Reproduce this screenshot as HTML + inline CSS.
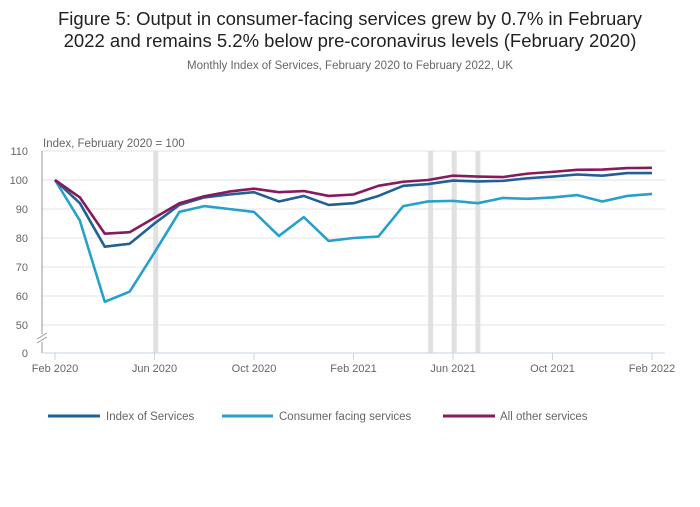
<!DOCTYPE html>
<html><head><meta charset="utf-8"><style>
body{margin:0;background:#fff;font-family:"Liberation Sans",sans-serif;}
</style></head><body>
<svg width="700" height="502" xmlns="http://www.w3.org/2000/svg" font-family="Liberation Sans, sans-serif">
<text x="350" y="25" text-anchor="middle" font-size="18.5" fill="#222">Figure 5: Output in consumer-facing services grew by 0.7% in February</text>
<text x="350" y="47" text-anchor="middle" font-size="18.5" fill="#222">2022 and remains 5.2% below pre-coronavirus levels (February 2020)</text>
<text x="350" y="69" text-anchor="middle" font-size="11.5" fill="#666">Monthly Index of Services, February 2020 to February 2022, UK</text>
<text x="43" y="147" font-size="11.5" fill="#666">Index, February 2020 = 100</text>
<g id="grid"></g><g id="bands"></g><g id="lines"></g><g id="axes"></g>
<g>
<line x1="48" y1="416" x2="100" y2="416" stroke="#206095" stroke-width="3"/>
<text x="106" y="420" font-size="11.5" fill="#666">Index of Services</text>
<line x1="222" y1="416" x2="273" y2="416" stroke="#27a0cc" stroke-width="3"/>
<text x="279" y="420" font-size="11.5" fill="#666">Consumer facing services</text>
<line x1="443" y1="416" x2="495" y2="416" stroke="#871a5b" stroke-width="3"/>
<text x="500" y="420" font-size="11.5" fill="#666">All other services</text>
</g>
</svg>
<script>
const months=["Feb 2020","Mar 2020","Apr 2020","May 2020","Jun 2020","Jul 2020","Aug 2020","Sep 2020","Oct 2020","Nov 2020","Dec 2020","Jan 2021","Feb 2021","Mar 2021","Apr 2021","May 2021","Jun 2021","Jul 2021","Aug 2021","Sep 2021","Oct 2021","Nov 2021","Dec 2021","Jan 2022","Feb 2022"];
const indexServices=[100,92,77,78,85,91.4,94,95,95.8,92.6,94.5,91.4,92,94.5,98,98.6,99.8,99.5,99.7,100.6,101.2,101.9,101.5,102.4,102.4];
const consumerFacing=[100,86,58,61.5,75,89,91,90,89,80.7,87.2,79,80,80.5,91,92.6,92.8,92,93.8,93.5,94,94.8,92.6,94.5,95.2];
const allOther=[100,94,81.5,82,87,92,94.4,96,97,95.8,96.2,94.5,95,98,99.4,100,101.5,101.2,101,102.2,102.8,103.5,103.6,104.1,104.2];
const yTicks=[50,60,70,80,90,100,110];
const xTickLabels=["Feb 2020","Jun 2020","Oct 2020","Feb 2021","Jun 2021","Oct 2021","Feb 2022"];
const bandMonths=[4.05,15.1,16.05,17.0];
const NS="http://www.w3.org/2000/svg";
const xS=i=>55+i*24.875;
const yS=v=>180-(v-100)*2.9;
function mk(t,a,p){const e=document.createElementNS(NS,t);for(const k in a)e.setAttribute(k,a[k]);p.appendChild(e);return e;}
const grid=document.getElementById('grid'),bands=document.getElementById('bands'),lines=document.getElementById('lines'),axes=document.getElementById('axes');
yTicks.forEach(v=>{const l=mk('line',{x1:42,x2:665,y1:yS(v),y2:yS(v),stroke:'#e3e3e3','stroke-width':1},grid);


const t=mk('text',{x:28,y:yS(v)+4,'text-anchor':'end','font-size':11,fill:'#666'},axes);t.textContent=v;

});
const z=mk('text',{x:28,y:357,'text-anchor':'end','font-size':11,fill:'#666'},axes);z.textContent='0';


bandMonths.forEach(m=>{const r=mk('rect',{x:xS(m)-2.5,y:151,width:5,height:202,fill:'#e0e0e0'},bands);

});
[[consumerFacing,'#27a0cc','consumer-facing-line'],[indexServices,'#206095','index-of-services-line'],[allOther,'#871a5b','all-other-line']].forEach(([d,c,n])=>{
const p=mk('polyline',{points:d.map((v,i)=>xS(i)+','+yS(v)).join(' '),fill:'none',stroke:c,'stroke-width':2.6,'stroke-linejoin':'round'},lines);

});
mk('line',{x1:42,x2:42,y1:151,y2:353,stroke:'#999'},axes);
mk('line',{x1:42,x2:665,y1:353,y2:353,stroke:'#c5d3e8'},axes);
mk('rect',{x:36,y:334,width:12,height:8,fill:'#fff'},axes);
mk('line',{x1:37,x2:47,y1:339,y2:333,stroke:'#999'},axes);
mk('line',{x1:37,x2:47,y1:343,y2:337,stroke:'#999'},axes);
xTickLabels.forEach(lbl=>{const i=months.indexOf(lbl);
mk('line',{x1:xS(i),x2:xS(i),y1:353,y2:360,stroke:'#c5d3e8'},axes);
const t=mk('text',{x:xS(i),y:372,'text-anchor':'middle','font-size':11,fill:'#666'},axes);t.textContent=lbl;

});
</script>
</body></html>
